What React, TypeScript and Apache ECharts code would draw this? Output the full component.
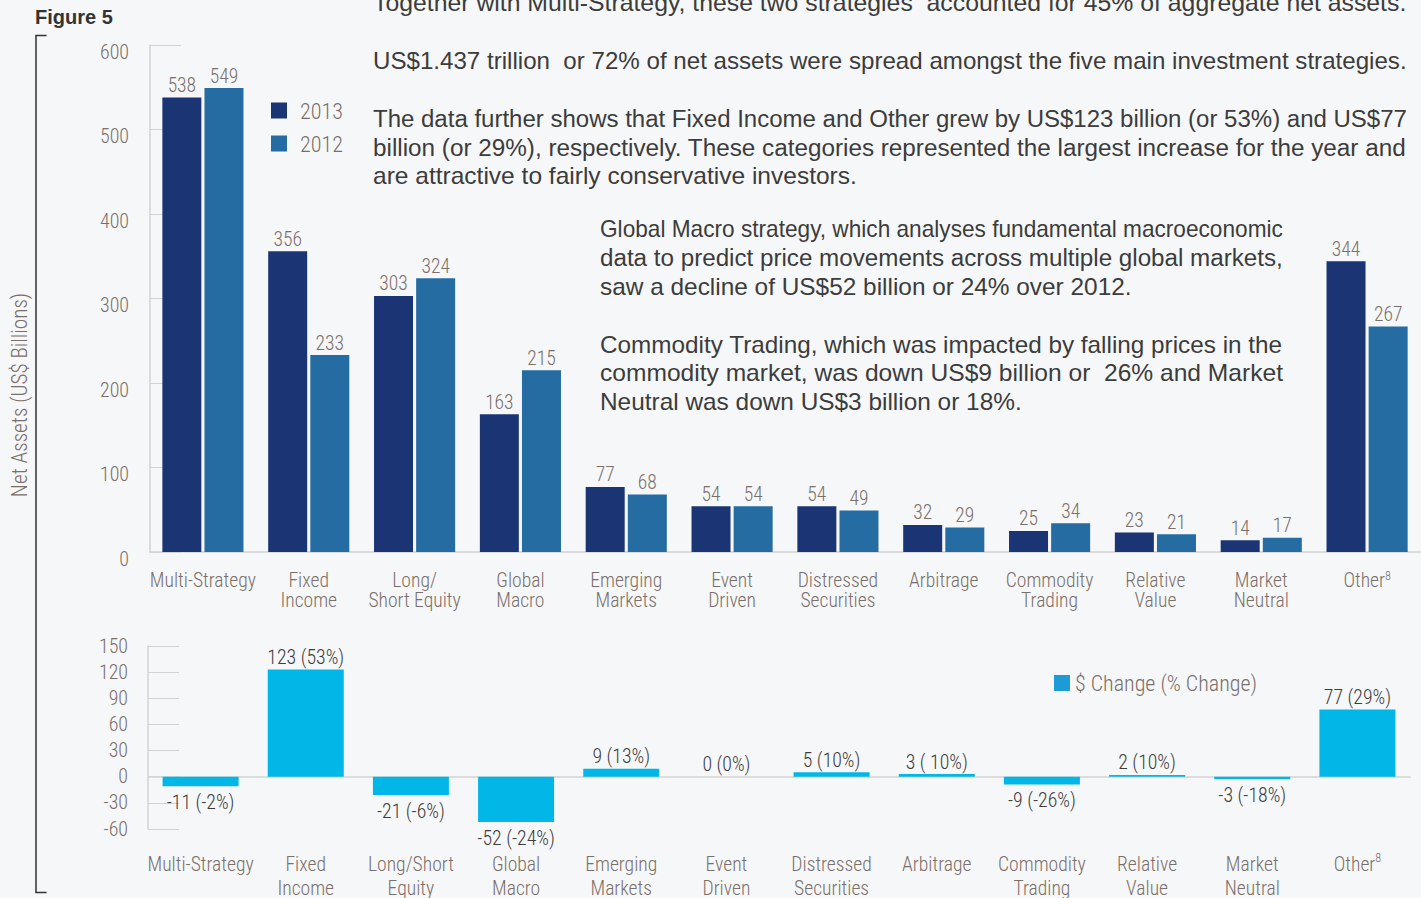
import React, { useEffect, useRef } from 'react';
import * as echarts from 'echarts';

const categoriesTop = [
  'Multi-Strategy', 'Fixed\nIncome', 'Long/\nShort Equity', 'Global\nMacro', 'Emerging\nMarkets',
  'Event\nDriven', 'Distressed\nSecurities', 'Arbitrage', 'Commodity\nTrading', 'Relative\nValue',
  'Market\nNeutral', 'Other',
];
const categoriesBottom = [
  'Multi-Strategy', 'Fixed\nIncome', 'Long/Short\nEquity', 'Global\nMacro', 'Emerging\nMarkets',
  'Event\nDriven', 'Distressed\nSecurities', 'Arbitrage', 'Commodity\nTrading', 'Relative\nValue',
  'Market\nNeutral', 'Other',
];
const footnoteCategory = 'Other';
const footnoteMark = '8';

const assets2013 = [538, 356, 303, 163, 77, 54, 54, 32, 25, 23, 14, 344];
const assets2012 = [549, 233, 324, 215, 68, 54, 49, 29, 34, 21, 17, 267];
const changeValues = [-11, 123, -21, -52, 9, 0, 5, 3, -9, 2, -3, 77];
const changePct = ['-2%', '53%', '-6%', '-24%', '13%', '0%', '10%', ' 10%', '-26%', '10%', '-18%', '29%'];

const topAxis = { min: 0, max: 600, interval: 100 };
const bottomAxis = { min: -60, max: 150, interval: 30 };

const seriesNames = ['2013', '2012', '$ Change (% Change)'];

const noteLines = [
  'Together with Multi-Strategy, these two strategies  accounted for 45% of aggregate net assets.',
  'US$1.437 trillion  or 72% of net assets were spread amongst the five main investment strategies.',
  'The data further shows that Fixed Income and Other grew by US$123 billion (or 53%) and US$77',
  'billion (or 29%), respectively. These categories represented the largest increase for the year and',
  'are attractive to fairly conservative investors.',
  'Global Macro strategy, which analyses fundamental macroeconomic',
  'data to predict price movements across multiple global markets,',
  'saw a decline of US$52 billion or 24% over 2012.',
  'Commodity Trading, which was impacted by falling prices in the',
  'commodity market, was down US$9 billion or  26% and Market',
  'Neutral was down US$3 billion or 18%.',
];

const figureTitle = 'Figure 5';
const yTitle = 'Net Assets (US$ Billions)';

const SANS = "'Liberation Sans', Arial, Helvetica, sans-serif";
const LABEL = '#7a6f6a';
const DARK = '#3c3c3c';
const NAVY = '#1b3574';
const STEEL = '#256ca3';
const CYAN = '#00b7e7';
const AXIS = '#d3d3d3';
const W = 300;

let measureCtx: CanvasRenderingContext2D | null = null;
function measure(text: string, font: string): number {
  if (!measureCtx) measureCtx = document.createElement('canvas').getContext('2d');
  if (!measureCtx) return 1;
  measureCtx.font = font;
  return measureCtx.measureText(text).width || 1;
}

function hasFont(name: string): boolean {
  const t = 'Multi-Strategy 0123456789 WwMmIil';
  const a = measure(t, '40px monospace');
  const b = measure(t, `40px '${name}', monospace`);
  const c = measure(t, '40px serif');
  const d = measure(t, `40px '${name}', serif`);
  return a !== b || c !== d;
}

function pickNarrow(): string {
  const candidates = [
    'Liberation Sans Narrow', 'Arial Narrow', 'Roboto Condensed', 'Open Sans Condensed',
    'Noto Sans Condensed', 'Noto Sans SemiCondensed', 'DejaVu Sans Condensed', 'Roboto',
  ];
  for (const c of candidates) {
    if (hasFont(c)) return `'${c}', sans-serif`;
  }
  return 'sans-serif';
}

export default function App() {
  const ref = useRef<HTMLDivElement>(null);

  useEffect(() => {
    document.body.style.margin = '0';
    if (!ref.current) return;
    const chart = echarts.init(ref.current, undefined, { renderer: 'svg' });

    const NARROW = pickNarrow();
    // size a narrow font so that a sample text takes the width it has in the reference
    const fit = (sample: string, width: number) => {
      const w = measure(sample, `${W} 20px ${NARROW}`);
      return Math.round((20 * width) / w * 10) / 10;
    };
    const catSize = fit('Multi-Strategy', 106);
    const valSize = fit('538', 28.5);
    const ySize = fit('600', 29);
    const chgSize = fit('123 (53%)', 77);
    const legSize = fit('2013', 43);
    const leg2Size = fit('$ Change (% Change)', 182);
    const titleSize = fit('Net Assets (US$ Billions)', 204);

    const noteLayout: [number, number, number][] = [
      [373, 3, 1034],
      [373, 61, 1034],
      [373, 119, 1034],
      [373, 148, 1034],
      [373, 176, 484],
      [600, 229, 683],
      [600, 258, 683],
      [600, 287, 532],
      [600, 345, 683],
      [600, 373, 683],
      [600, 402, 422],
    ];
    const noteSize = 23;
    const noteFont = `${noteSize}px ${SANS}`;
    const noteGraphics = noteLines.map((t, i) => {
      const [x, y, w] = noteLayout[i];
      const mw = measure(t, noteFont);
      return {
        type: 'text',
        x,
        y,
        scaleX: w / mw,
        silent: true,
        style: {
          text: t,
          fontSize: noteSize,
          fontFamily: SANS,
          fill: DARK,
          textAlign: 'left',
          textVerticalAlign: 'middle',
        },
      };
    });

    const catFormatter = (v: string) => (v === footnoteCategory ? `${v}{sup|${footnoteMark}}` : v);
    const supSize = Math.round(catSize * 0.6);

    const option: any = {
      animation: false,
      backgroundColor: '#f6f7f8',
      grid: [
        { left: 150, top: 45, width: 1270, height: 507, containLabel: false, outerBoundsMode: 'none' },
        { left: 148, top: 646, width: 1262, height: 183, containLabel: false, outerBoundsMode: 'none' },
      ],
      legend: [
        {
          data: [seriesNames[0], seriesNames[1]],
          orient: 'vertical',
          left: 266,
          top: 94,
          itemWidth: 16,
          itemHeight: 16,
          itemGap: 10,
          icon: 'rect',
          selectedMode: false,
          textStyle: { fontFamily: NARROW, fontWeight: W, fontSize: legSize, lineHeight: 23, color: LABEL, padding: [0, 0, 0, 8] },
        },
        {
          data: [{ name: seriesNames[2], itemStyle: { color: '#1e9ad6' } }],
          left: 1049,
          top: 667,
          itemWidth: 16,
          itemHeight: 16,
          icon: 'rect',
          selectedMode: false,
          textStyle: { fontFamily: NARROW, fontWeight: W, fontSize: leg2Size, lineHeight: 22, color: LABEL },
        },
      ],
      xAxis: [
        {
          gridIndex: 0,
          type: 'category',
          data: categoriesTop,
          axisLine: { lineStyle: { color: AXIS, width: 1.5 } },
          axisTick: { inside: true, length: 13, lineStyle: { color: AXIS } },
          axisLabel: {
            interval: 0,
            margin: 18,
            fontFamily: NARROW,
            fontWeight: W,
            fontSize: catSize,
            lineHeight: 20,
            color: LABEL,
            formatter: catFormatter,
            rich: { sup: { fontFamily: NARROW, fontWeight: W, fontSize: supSize, color: LABEL, lineHeight: 2, verticalAlign: 'top' } },
          },
        },
        {
          gridIndex: 1,
          type: 'category',
          data: categoriesBottom,
          axisLine: { onZero: true, lineStyle: { color: AXIS, width: 1.5 } },
          axisTick: { inside: true, length: 5, lineStyle: { color: AXIS } },
          axisLabel: {
            interval: 0,
            margin: 23,
            fontFamily: NARROW,
            fontWeight: W,
            fontSize: catSize,
            lineHeight: 24,
            color: LABEL,
            formatter: catFormatter,
            rich: { sup: { fontFamily: NARROW, fontWeight: W, fontSize: supSize, color: LABEL, lineHeight: 6, verticalAlign: 'top' } },
          },
        },
      ],
      yAxis: [
        {
          gridIndex: 0,
          type: 'value',
          min: topAxis.min,
          max: topAxis.max,
          interval: topAxis.interval,
          axisLine: { show: true, lineStyle: { color: AXIS, width: 1.5 } },
          axisTick: { show: true, inside: true, length: 31, lineStyle: { color: AXIS } },
          splitLine: { show: false },
          axisLabel: {
            margin: 21,
            fontFamily: NARROW,
            fontWeight: W,
            fontSize: ySize,
            color: LABEL,
            verticalAlign: 'top',
            lineHeight: 14,
          },
        },
        {
          gridIndex: 1,
          type: 'value',
          min: bottomAxis.min,
          max: bottomAxis.max,
          interval: bottomAxis.interval,
          axisLine: { show: true, lineStyle: { color: AXIS, width: 1.5 } },
          axisTick: { show: true, inside: true, length: 31, lineStyle: { color: AXIS } },
          splitLine: { show: false },
          axisLabel: { margin: 20, fontFamily: NARROW, fontWeight: W, fontSize: ySize, color: LABEL },
        },
      ],
      series: [
        {
          name: seriesNames[0],
          type: 'bar',
          xAxisIndex: 0,
          yAxisIndex: 0,
          data: assets2013,
          barWidth: 39,
          barGap: '8%',
          itemStyle: { color: NAVY },
          label: { show: true, position: 'top', distance: 2, fontFamily: NARROW, fontWeight: W, fontSize: valSize, color: LABEL },
        },
        {
          name: seriesNames[1],
          type: 'bar',
          xAxisIndex: 0,
          yAxisIndex: 0,
          data: assets2012,
          barWidth: 39,
          barGap: '8%',
          itemStyle: { color: STEEL },
          label: { show: true, position: 'top', distance: 2, fontFamily: NARROW, fontWeight: W, fontSize: valSize, color: LABEL },
        },
        {
          name: seriesNames[2],
          type: 'bar',
          xAxisIndex: 1,
          yAxisIndex: 1,
          barWidth: 76,
          data: changeValues.map((v) => ({
            value: v,
            label: { position: v < 0 ? 'bottom' : 'top', distance: v < 0 ? 6 : 2 },
          })),
          itemStyle: { color: CYAN },
          label: {
            show: true,
            fontFamily: NARROW,
            fontWeight: W,
            fontSize: chgSize,
            color: DARK,
            formatter: (p: any) => `${p.value} (${changePct[p.dataIndex]})`,
          },
        },
      ],
      graphic: [
        {
          type: 'text',
          x: 35,
          y: 17,
          silent: true,
          style: {
            text: figureTitle,
            fontSize: 20,
            fontWeight: 'bold',
            fontFamily: SANS,
            fill: '#333',
            textAlign: 'left',
            textVerticalAlign: 'middle',
          },
        },
        {
          type: 'polyline',
          silent: true,
          shape: { points: [[46.5, 35.5], [36, 35.5], [36, 892.5], [46.5, 892.5]] },
          style: { stroke: '#333', lineWidth: 1.5, fill: 'none' },
        },
        {
          type: 'text',
          x: 19,
          y: 395,
          rotation: Math.PI / 2,
          silent: true,
          style: {
            text: yTitle,
            fontSize: titleSize,
            fontWeight: W,
            fontFamily: NARROW,
            fill: LABEL,
            textAlign: 'center',
            textVerticalAlign: 'middle',
          },
        },
        ...noteGraphics,
      ],
    };

    chart.setOption(option);
    return () => chart.dispose();
  }, []);

  return <div ref={ref} style={{ width: 1421, height: 898 }} />;
}
